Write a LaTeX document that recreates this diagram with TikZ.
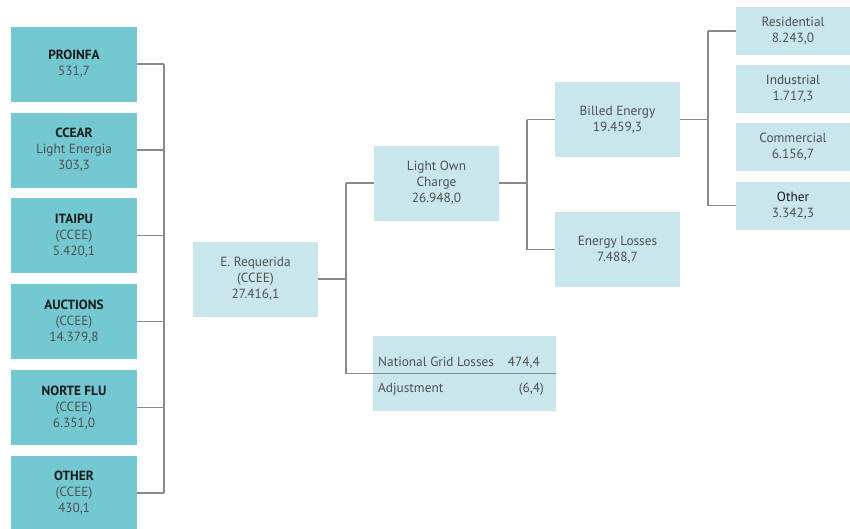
\documentclass[tikz,border=0pt]{standalone}
\usepackage{fontspec}
\setmainfont{PT Sans}
\definecolor{teal1}{HTML}{74C8D2}
\definecolor{light1}{HTML}{C8E6EC}
\definecolor{linegrey}{HTML}{8A8A8A}
\definecolor{txtgrey}{HTML}{505050}
\definecolor{dark}{HTML}{1A1A1A}
\begin{document}
\begin{tikzpicture}[x=1pt,y=-1pt,
  lbl/.style={font=\fontsize{13.3}{16}\selectfont, text=txtgrey, align=center, inner sep=0pt},
  tealbox/.style={lbl, fill=teal1, minimum width=126pt, minimum height=75pt},
  lightbox/.style={lbl, fill=light1, minimum width=125pt, minimum height=75pt},
  rbox/.style={lbl, fill=light1, minimum width=114pt, minimum height=48pt},
  conn/.style={draw=linegrey, line width=1.2pt}]
\useasboundingbox (0,0) rectangle (850,528);
\clip (0,0) rectangle (850,528);
% left column
\node[tealbox] (proinfa) at (74,64) {\textbf{\color{dark}PROINFA}\\531,7};
\node[tealbox] (ccear) at (74,150) {\textbf{\color{dark}CCEAR}\\Light Energia\\303,3};
\node[tealbox] (itaipu) at (74,235.5) {\textbf{\color{dark}ITAIPU}\\(CCEE)\\5.420,1};
\node[tealbox] (auctions) at (74,321.5) {\textbf{\color{dark}AUCTIONS}\\(CCEE)\\14.379,8};
\node[tealbox] (norte) at (74,407.5) {\textbf{\color{dark}NORTE FLU}\\(CCEE)\\6.351,0};
\node[tealbox] (other) at (74,493) {\textbf{\color{dark}OTHER}\\(CCEE)\\430,1};
\coordinate (lbus) at (164,64);
\foreach \n in {proinfa,ccear,itaipu,auctions,norte,other}
  \draw[conn] (\n.east) -- (\n.east -| lbus);
\draw[conn] (lbus |- proinfa.east) -- (lbus |- other.east);
% middle
\node[lightbox] (ereq) at (255.5,279) {E. Requerida\\(CCEE)\\27.416,1};
\node[lightbox] (loc) at (436.5,183) {Light Own\\Charge\\26.948,0};
\node[lightbox, minimum width=183pt] (ngl) at (464.5,373.5) {};
\node[lbl, anchor=base west] (ngltext) at (378,366) {National Grid Losses};
\node[lbl, anchor=base east] (nglval) at (540,366) {474,4};
\node[lbl, anchor=base west] (adjtext) at (378,392) {Adjustment};
\node[lbl, anchor=base east] (adjval) at (544,392) {(6,4)};
\coordinate (ebus) at (346,279);
\draw[conn] (ereq.east) -- (ebus);
\draw[conn] (ebus |- loc.west) -- (ebus |- ngl.east);
\draw[conn] (ebus |- loc.west) -- (loc.west);
\draw[conn] (ebus |- ngl.east) -- (ngl.east);
% billed / losses
\node[lightbox] (billed) at (617.5,119.5) {Billed Energy\\19.459,3};
\node[lightbox] (losses) at (617.5,249.5) {Energy Losses\\7.488,7};
\coordinate (bbus) at (527,183);
\draw[conn] (loc.east) -- (bbus);
\draw[conn] (bbus |- billed.west) -- (bbus |- losses.west);
\draw[conn] (bbus |- billed.west) -- (billed.west);
\draw[conn] (bbus |- losses.west) -- (losses.west);
% right column
\node[rbox] (res) at (793,31) {Residential\\8.243,0};
\node[rbox] (ind) at (793,88.5) {{\color{dark!80}Industrial}\\1.717,3};
\node[rbox] (com) at (793,146.5) {Commercial\\6.156,7};
\node[rbox] (oth) at (793,205.5) {{\color{dark}Other}\\3.342,3};
\coordinate (rbus) at (708,119.5);
\draw[conn] (billed.east) -- (rbus);
\draw[conn] (rbus |- res.west) -- (rbus |- oth.west);
\draw[conn] (rbus |- res.west) -- (res.west);
\draw[conn] (rbus |- oth.west) -- (oth.west);
\end{tikzpicture}
\end{document}
